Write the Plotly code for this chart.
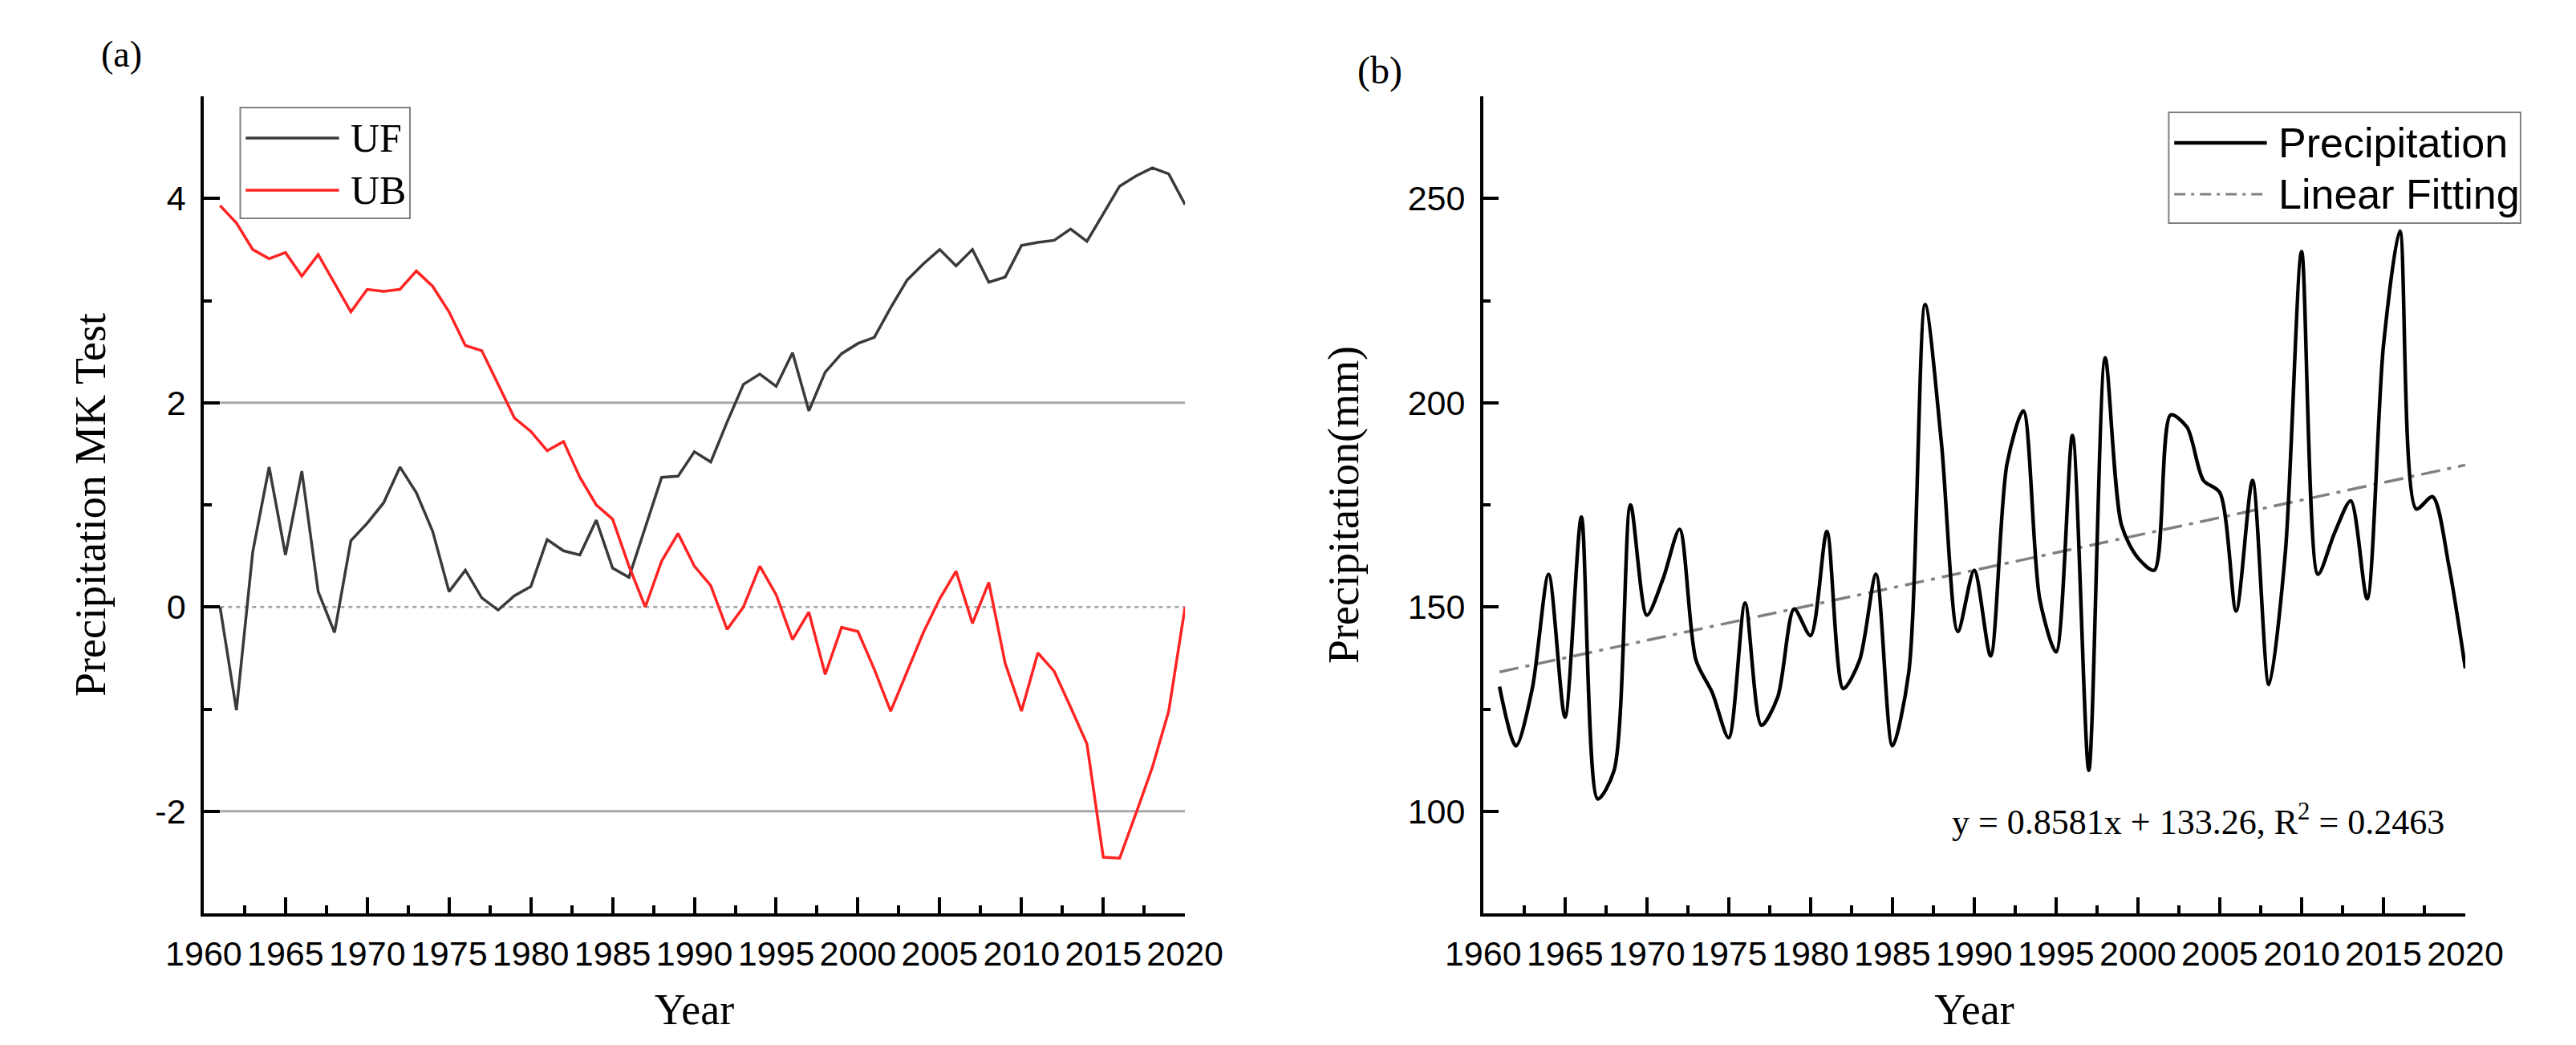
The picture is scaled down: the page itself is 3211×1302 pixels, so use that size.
import plotly.graph_objects as go

# ---------------- data ----------------
years = list(range(1961, 2021))

uf = [0.00, -1.01, 0.54, 1.37, 0.51, 1.33, 0.15, -0.25, 0.65, 0.82,
      1.02, 1.37, 1.12, 0.74, 0.15, 0.36, 0.09, -0.03, 0.11, 0.20,
      0.66, 0.55, 0.51, 0.85, 0.38, 0.29, 0.78, 1.27, 1.28, 1.52,
      1.42, 1.81, 2.18, 2.28, 2.16, 2.49, 1.92, 2.30, 2.48, 2.58,
      2.64, 2.93, 3.20, 3.36, 3.50, 3.34, 3.50, 3.18, 3.23, 3.54,
      3.57, 3.59, 3.70, 3.58, 3.85, 4.12, 4.22, 4.30, 4.24, 3.94]

ub = [3.93, 3.76, 3.50, 3.41, 3.47, 3.24, 3.45, 3.17, 2.89, 3.11,
      3.09, 3.11, 3.29, 3.14, 2.89, 2.56, 2.51, 2.18, 1.85, 1.72,
      1.53, 1.62, 1.27, 1.00, 0.86, 0.40, 0.00, 0.45, 0.72, 0.40,
      0.21, -0.22, 0.00, 0.40, 0.12, -0.32, -0.05, -0.66, -0.20, -0.24,
      -0.61, -1.02, -0.64, -0.25, 0.08, 0.35, -0.16, 0.24, -0.55, -1.02,
      -0.45, -0.63, -0.98, -1.34, -2.45, -2.46, -2.02, -1.57, -1.02, 0.00]

precip = [130.5, 116, 130, 158, 123, 172, 103, 110, 175, 148,
          157, 169, 137, 129, 118, 151, 121, 128, 149.5, 143,
          168.5, 130, 137, 158, 116, 134, 224, 190, 144, 159,
          138, 185, 198, 152, 139, 192, 110, 211, 170, 162,
          159, 197, 194, 181, 178, 149, 181, 131, 163, 237,
          158, 168, 176, 152, 214, 242, 174, 177, 160, 135]

fit_years = [1961, 2020]
fit_values = [134.1, 184.75]

ref_years = [1961, 2020]
upper_crit = [2, 2]
lower_crit = [-2, -2]
zero_line = [0, 0]

x_tickvals = [1960, 1965, 1970, 1975, 1980, 1985, 1990, 1995, 2000, 2005, 2010, 2015, 2020]
x_ticktext = [str(v) for v in x_tickvals]
ya_tickvals = [-2, 0, 2, 4]
ya_ticktext = ["-2", "0", "2", "4"]
yb_tickvals = [100, 150, 200, 250]
yb_ticktext = ["100", "150", "200", "250"]

equation_text = "y = 0.8581x + 133.26, R<sup>2</sup> = 0.2463"

# ---------------- layout helpers ----------------
W, H = 3211, 1302
def px(x):
    return x / W
def py(y):
    return 1 - y / H

SERIF = "Times New Roman, Liberation Serif, serif"
SANS = "Arial, Liberation Sans, sans-serif"

fig = go.Figure()

# Panel (a)
fig.add_trace(go.Scatter(x=ref_years, y=upper_crit, mode="lines", xaxis="x", yaxis="y",
                         line=dict(color="#a8a8a8", width=3), showlegend=False, hoverinfo="skip"))
fig.add_trace(go.Scatter(x=ref_years, y=lower_crit, mode="lines", xaxis="x", yaxis="y",
                         line=dict(color="#a8a8a8", width=3), showlegend=False, hoverinfo="skip"))
fig.add_trace(go.Scatter(x=ref_years, y=zero_line, mode="lines", xaxis="x", yaxis="y",
                         line=dict(color="#a0a0a0", width=2.5, dash="5px,5px"), showlegend=False,
                         hoverinfo="skip"))
fig.add_trace(go.Scatter(x=years, y=uf, mode="lines", name="UF", xaxis="x", yaxis="y",
                         line=dict(color="#3a3a3a", width=3.5), showlegend=False))
fig.add_trace(go.Scatter(x=years, y=ub, mode="lines", name="UB", xaxis="x", yaxis="y",
                         line=dict(color="#ff2424", width=3.5), showlegend=False))

# Panel (b)
fig.add_trace(go.Scatter(x=fit_years, y=fit_values, mode="lines", name="Linear Fitting",
                         xaxis="x2", yaxis="y2",
                         line=dict(color="#808080", width=3.5, dash="24px,9px,5px,9px"),
                         showlegend=False))
fig.add_trace(go.Scatter(x=years, y=precip, mode="lines", name="Precipitation",
                         xaxis="x2", yaxis="y2",
                         line=dict(color="black", width=4.5, shape="spline", smoothing=0.8),
                         showlegend=False))

axis_common = dict(
    showline=True, linecolor="black", linewidth=3.5, mirror=False,
    ticks="inside", tickcolor="black", tickwidth=3.5, ticklen=20,
    showgrid=False, zeroline=False,
    tickfont=dict(family=SANS, size=43, color="black"),
)

xdom_a = [px(204), px(1465)]
xdom_b = [px(1848), px(3110)]
ydom = [py(1130), py(112)]

minor_x = dict(ticks="inside", ticklen=10, tickwidth=3.5, tickcolor="black", dtick=2.5,
               tick0=1960, showgrid=False)

fig.update_layout(
    width=W, height=H,
    margin=dict(l=0, r=0, t=0, b=0),
    paper_bgcolor="white", plot_bgcolor="white",
    xaxis=dict(domain=xdom_a, anchor="y", range=[1960, 2020],
               tickvals=x_tickvals, ticktext=x_ticktext, minor=minor_x,
               ticklabelstandoff=10,
               title=dict(text="Year", font=dict(family=SERIF, size=54, color="black"), standoff=28),
               **axis_common),
    yaxis=dict(domain=ydom, anchor="x", range=[-3, 5],
               tickvals=ya_tickvals, ticktext=ya_ticktext,
               minor=dict(ticks="inside", ticklen=10, tickwidth=3.5, tickcolor="black", dtick=1,
                          tick0=-3, showgrid=False),
               ticklabelstandoff=10,
               title=dict(text="Precipitation MK Test", font=dict(family=SERIF, size=54, color="black"),
                          standoff=45),
               **axis_common),
    xaxis2=dict(domain=xdom_b, anchor="y2", range=[1960, 2020],
                tickvals=x_tickvals, ticktext=x_ticktext, minor=minor_x,
                ticklabelstandoff=10,
                title=dict(text="Year", font=dict(family=SERIF, size=54, color="black"), standoff=28),
                **axis_common),
    yaxis2=dict(domain=ydom, anchor="x2", range=[75, 275],
                tickvals=yb_tickvals, ticktext=yb_ticktext,
                minor=dict(ticks="inside", ticklen=10, tickwidth=3.5, tickcolor="black", dtick=25,
                           tick0=75, showgrid=False),
                ticklabelstandoff=10,
                title=dict(text="Precipitation(mm)", font=dict(family=SERIF, size=54, color="black"),
                           standoff=45),
                **axis_common),
    showlegend=False,
)

shapes = []
annotations = []

# Custom legend (a)
shapes.append(dict(type="rect", xref="paper", yref="paper",
                   x0=px(251), x1=px(469), y0=py(264), y1=py(126),
                   line=dict(color="#808080", width=2), fillcolor="white", layer="above"))
shapes.append(dict(type="line", xref="paper", yref="paper", x0=px(258), x1=px(378),
                   y0=py(164), y1=py(164), line=dict(color="#3a3a3a", width=3.5)))
shapes.append(dict(type="line", xref="paper", yref="paper", x0=px(258), x1=px(378),
                   y0=py(229), y1=py(229), line=dict(color="#ff2424", width=3.5)))
annotations.append(dict(text="UF", xref="paper", yref="paper", x=px(391), y=py(164),
                        xanchor="left", yanchor="middle", showarrow=False,
                        font=dict(family=SERIF, size=50, color="black")))
annotations.append(dict(text="UB", xref="paper", yref="paper", x=px(391), y=py(229),
                        xanchor="left", yanchor="middle", showarrow=False,
                        font=dict(family=SERIF, size=50, color="black")))

# Custom legend (b)
shapes.append(dict(type="rect", xref="paper", yref="paper",
                   x0=px(2729), x1=px(3181), y0=py(270), y1=py(132),
                   line=dict(color="#808080", width=2), fillcolor="white", layer="above"))
shapes.append(dict(type="line", xref="paper", yref="paper", x0=px(2736), x1=px(2855),
                   y0=py(170), y1=py(170), line=dict(color="black", width=4.5)))
shapes.append(dict(type="line", xref="paper", yref="paper", x0=px(2736), x1=px(2855),
                   y0=py(234), y1=py(234), line=dict(color="#808080", width=3, dash="14px,7px,4px,7px")))
annotations.append(dict(text="Precipitation", xref="paper", yref="paper", x=px(2868), y=py(170),
                        xanchor="left", yanchor="middle", showarrow=False,
                        font=dict(family=SANS, size=52, color="black")))
annotations.append(dict(text="Linear Fitting", xref="paper", yref="paper", x=px(2868), y=py(234),
                        xanchor="left", yanchor="middle", showarrow=False,
                        font=dict(family=SANS, size=52, color="black")))

# Panel labels
annotations.append(dict(text="(a)", xref="paper", yref="paper", x=px(98), y=py(59),
                        xanchor="center", yanchor="middle", showarrow=False,
                        font=dict(family=SERIF, size=46, color="black")))
annotations.append(dict(text="(b)", xref="paper", yref="paper", x=px(1715), y=py(80),
                        xanchor="center", yanchor="middle", showarrow=False,
                        font=dict(family=SERIF, size=48, color="black")))

# Equation
annotations.append(dict(text=equation_text, xref="paper", yref="paper", x=px(2767), y=py(1013),
                        xanchor="center", yanchor="middle", showarrow=False,
                        font=dict(family=SERIF, size=44, color="black")))

fig.update_layout(shapes=shapes, annotations=annotations)

fig.write_html("out.html")
